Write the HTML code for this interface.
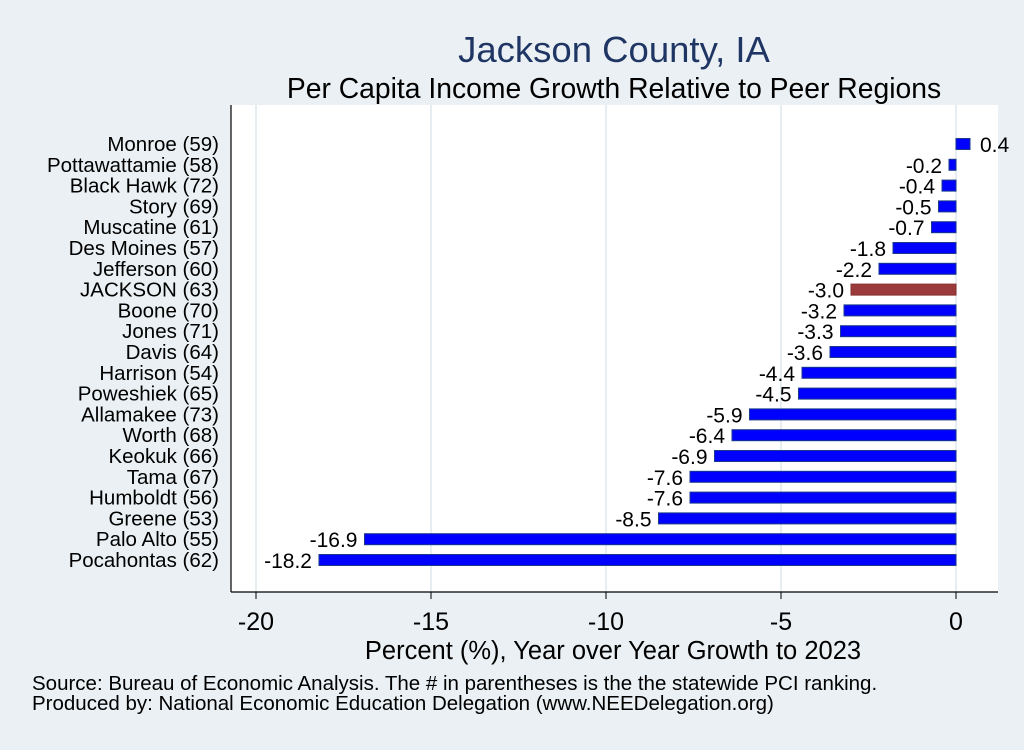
<!DOCTYPE html>
<html><head><meta charset="utf-8"><style>
body{margin:0;background:#eaf0f3;font-family:"Liberation Sans",sans-serif;}
svg text{font-family:"Liberation Sans",sans-serif;}
</style></head><body>
<svg id="c" width="1024" height="745" xmlns="http://www.w3.org/2000/svg">
<rect width="1024" height="745" fill="#eaf0f3"/>
<text x="614" y="62" font-size="36.5" fill="#1f3564" text-anchor="middle">Jackson County, IA</text>
<text x="614" y="98" font-size="28.3" fill="#000" text-anchor="middle">Per Capita Income Growth Relative to Peer Regions</text>
<rect x="231" y="105" width="767" height="487" fill="#fff"/>
<g id="grid"></g><g id="bars"></g>
<line x1="231" y1="105" x2="231" y2="592" stroke="#000" stroke-width="1.2"/>
<line x1="231" y1="592" x2="998" y2="592" stroke="#000" stroke-width="1.2"/>
<g id="ticks"></g>
<text x="613" y="659" font-size="25.5" text-anchor="middle">Percent (%), Year over Year Growth to 2023</text>
<text x="32" y="690" font-size="20.5">Source: Bureau of Economic Analysis. The # in parentheses is the the statewide PCI ranking.</text>
<text x="32" y="710" font-size="20.5">Produced by: National Economic Education Delegation (www.NEEDelegation.org)</text>
</svg>
<script>
const categories=["Monroe (59)","Pottawattamie (58)","Black Hawk (72)","Story (69)","Muscatine (61)","Des Moines (57)","Jefferson (60)","JACKSON (63)","Boone (70)","Jones (71)","Davis (64)","Harrison (54)","Poweshiek (65)","Allamakee (73)","Worth (68)","Keokuk (66)","Tama (67)","Humboldt (56)","Greene (53)","Palo Alto (55)","Pocahontas (62)"];
const values=[0.4,-0.2,-0.4,-0.5,-0.7,-1.8,-2.2,-3.0,-3.2,-3.3,-3.6,-4.4,-4.5,-5.9,-6.4,-6.9,-7.6,-7.6,-8.5,-16.9,-18.2];
const tickValues=[-20,-15,-10,-5,0];
const highlight="JACKSON (63)";
const NS="http://www.w3.org/2000/svg";
const x=v=>956+v*35;
const y=i=>144+i*20.8;
function mk(t,a,p){const e=document.createElementNS(NS,t);for(const k in a)e.setAttribute(k,a[k]);p.appendChild(e);return e;}
const grid=document.getElementById('grid'),bars=document.getElementById('bars'),ticks=document.getElementById('ticks');
tickValues.forEach(v=>{
 const g=mk('line',{x1:x(v),x2:x(v),y1:105,y2:592,stroke:'#e6eef1','stroke-width':2},grid);
 
 
 mk('line',{x1:x(v),x2:x(v),y1:592,y2:599,stroke:'#000'},ticks);
 const t=mk('text',{x:x(v),y:630,'font-size':25,'text-anchor':'middle'},ticks);
 t.textContent=v;
 
 
});
categories.forEach((c,i)=>{
 const v=values[i],cy=y(i);
 const l=mk('text',{x:219,y:cy+7,'font-size':20.5,'text-anchor':'end'},bars);
 l.textContent=c;
 
 
 const x0=Math.min(x(0),x(v)),w=Math.abs(x(v)-x(0));
 const hl=c===highlight;
 const r=mk('rect',{x:x0,y:cy-5.5,width:w,height:11,fill:hl?'#9b3a3a':'#0000ff',stroke:hl?'#8a3030':'#1a3a8a','stroke-width':1},bars);
 
 
 const vt=mk('text',{x:v>=0?x(v)+10:x(v)-7,y:cy+8,'font-size':21,'text-anchor':v>=0?'start':'end'},bars);
 vt.textContent=v.toFixed(1);
 
 
});
</script>
</body></html>
